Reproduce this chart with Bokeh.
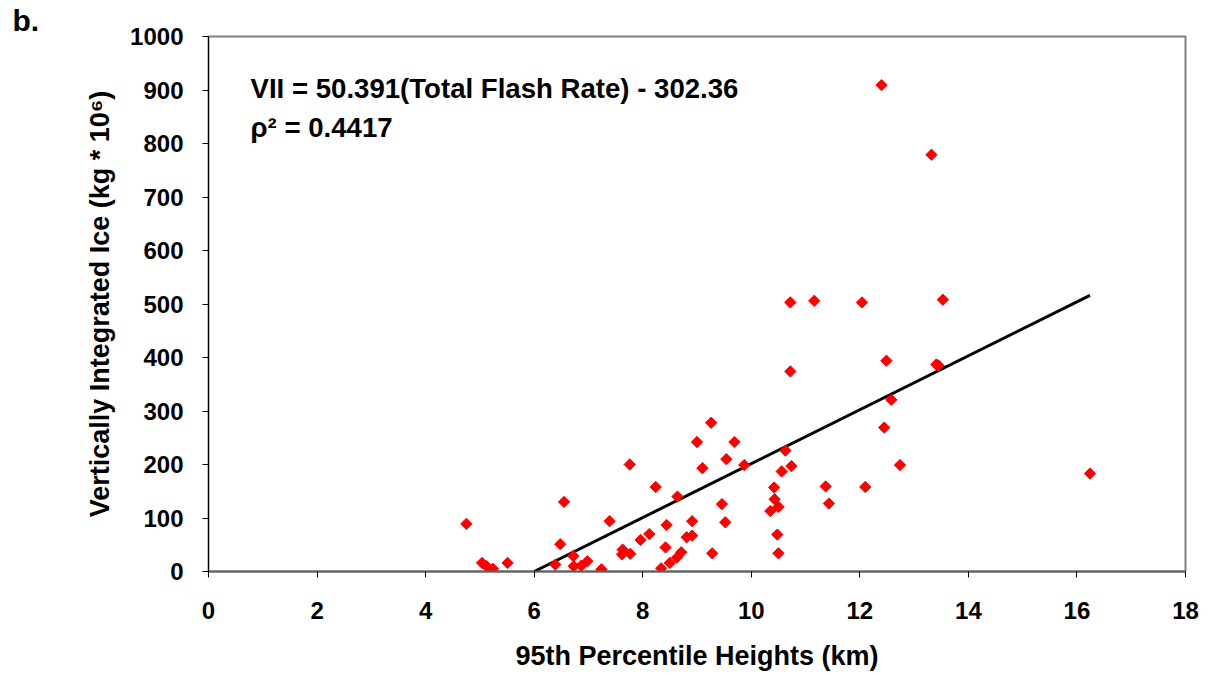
from bokeh.plotting import figure
from bokeh.models import Range1d, FixedTicker, ColumnDataSource
from bokeh.core.properties import value
from bokeh.embed import file_html
from bokeh.resources import INLINE
import math

heights_km = [4.75, 5.04, 5.12, 5.24, 5.51, 6.39, 6.48, 6.55, 6.72, 6.73, 6.87, 6.98,
              7.24, 7.39, 7.63, 7.62, 7.77, 7.76, 7.96, 8.12, 8.24, 8.34, 8.42, 8.44,
              8.50, 8.63, 8.71, 8.64, 8.81, 8.91, 8.91, 9.00, 9.10, 9.28, 9.46, 9.52,
              9.54, 9.69, 9.87, 9.26, 10.72, 10.63, 10.56, 10.74, 10.42, 10.43, 10.50,
              10.35, 10.48, 10.50, 11.37, 11.43, 12.10, 12.49, 12.58, 12.45, 12.74,
              13.41, 13.45, 12.40, 13.32, 10.72, 11.16, 12.04, 13.53, 16.24]
vii = [89, 16, 10, 5, 16, 13, 51, 130, 29, 10, 11, 19,
       4, 94, 41, 32, 33, 200, 59, 70, 158, 6, 45, 87,
       16, 26, 36, 140, 64, 67, 94, 242, 193, 34, 126, 92,
       210, 242, 199, 278, 374, 226, 187, 197, 157, 135, 121,
       113, 69, 34, 159, 127, 158, 394, 321, 269, 199,
       387, 385, 909, 779, 503, 506, 503, 508, 183]

slope = 50.391
intercept = -302.36
fit_x = [-intercept / slope, max(heights_km)]
fit_y = [slope * v + intercept for v in fit_x]

x_ticks = [0, 2, 4, 6, 8, 10, 12, 14, 16, 18]
y_ticks = [0, 100, 200, 300, 400, 500, 600, 700, 800, 900, 1000]

FONT = "Liberation Sans"

p = figure(width=1208, height=673, output_backend="svg", toolbar_location=None,
           x_range=Range1d(0, 18), y_range=Range1d(0, 1000),
           min_border_left=208, min_border_right=23, min_border_top=36, min_border_bottom=102)
p.background_fill_color = "white"
p.border_fill_color = "white"
p.outline_line_color = "#808080"
p.outline_line_width = 2
p.grid.visible = False

p.title.text = "b."
p.title.align = "left"
p.title.offset = -196
p.title.standoff = 0
p.title.text_font = FONT
p.title.text_font_style = "bold"
p.title.text_font_size = "30px"
p.title.text_color = "black"

p.xaxis.ticker = FixedTicker(ticks=x_ticks)
p.yaxis.ticker = FixedTicker(ticks=y_ticks)
p.xaxis.minor_tick_line_color = None
p.yaxis.minor_tick_line_color = None
p.xaxis.major_tick_in = 0
p.xaxis.major_tick_out = 6
p.yaxis.major_tick_in = 0
p.yaxis.major_tick_out = 6
p.xaxis.axis_line_color = "#606060"
p.xaxis.axis_line_width = 2
p.yaxis.axis_line_color = "black"
p.yaxis.axis_line_width = 1
p.axis.major_tick_line_color = "black"
p.axis.major_label_text_font = FONT
p.axis.major_label_text_font_style = "bold"
p.axis.major_label_text_font_size = "24px"
p.axis.major_label_text_color = "black"
p.xaxis.major_label_standoff = 24
p.yaxis.major_label_standoff = 19

p.xaxis.axis_label = "95th Percentile Heights (km)"
p.yaxis.axis_label = "Vertically Integrated Ice (kg * 10\u2076)"
p.axis.axis_label_text_font = FONT
p.axis.axis_label_text_font_style = "bold"
p.axis.axis_label_text_font_size = "27px"
p.axis.axis_label_text_color = "black"
p.xaxis.axis_label_standoff = 19
p.yaxis.axis_label_standoff = 12

src = ColumnDataSource(dict(x=heights_km, y=vii))
p.line(fit_x, fit_y, line_color="black", line_width=3)
p.scatter("x", "y", source=src, marker="square", angle=math.pi / 4, size=8,
          fill_color="#ff0000", line_color="#ff0000")

p.text(x=[0.774], y=[902], text=["VII = 50.391(Total Flash Rate) - 302.36"],
       text_font=value(FONT), text_font_style="bold", text_font_size="27.6px",
       text_color="black", text_baseline="alphabetic")
p.text(x=[0.774], y=[830], text=["\u03c1\u00b2 = 0.4417"],
       text_font=value(FONT), text_font_style="bold", text_font_size="27.6px",
       text_color="black", text_baseline="alphabetic")

open("out.html", "w").write(file_html(p, INLINE))
